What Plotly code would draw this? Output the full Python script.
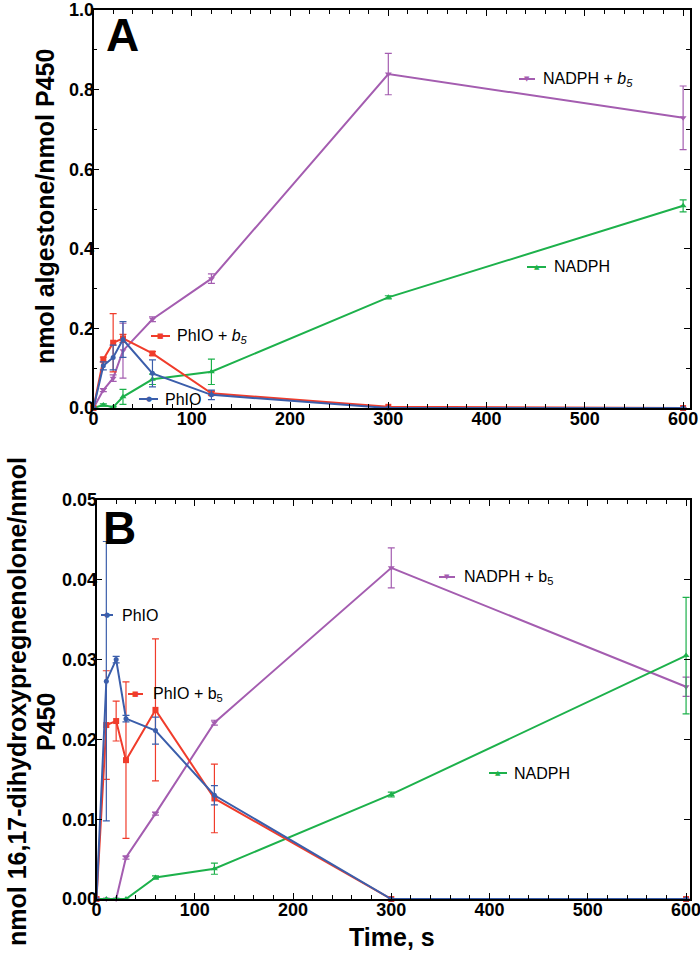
import plotly.graph_objects as go

# ---------------- data ----------------
time_s = [0, 10, 20, 30, 60, 120, 300, 600]

# Panel A: nmol algestone / nmol P450
a_phio = [0, 0.106, 0.127, 0.172, 0.087, 0.033, 0.0, 0.0]
a_phio_err = [0, 0.010, 0.031, 0.045, 0.034, 0.012, 0, 0]
a_phio_b5 = [0, 0.122, 0.164, 0.175, 0.137, 0.037, 0.003, 0.0]
a_phio_b5_err = [0, 0.006, 0.073, 0.010, 0.005, 0.005, 0, 0]
a_nadph_b5 = [0, 0.045, 0.075, 0.144, 0.223, 0.325, 0.839, 0.729]
a_nadph_b5_err = [0, 0.004, 0.008, 0.069, 0.006, 0.012, 0.052, 0.080]
a_nadph = [0, 0.0075, 0.002, 0.028, 0.072, 0.091, 0.278, 0.508]
a_nadph_err = [0, 0.003, 0.002, 0.019, 0.013, 0.032, 0.004, 0.015]

# Panel B: nmol 16,17-dihydroxypregnenolone / nmol P450
b_phio = [0, 0.0273, 0.0300, 0.0226, 0.0211, 0.0130, 0, 0]
b_phio_err = [0, 0.0175, 0.0004, 0.0004, 0.0017, 0.0012, 0, 0]
b_phio_b5 = [0, 0.0218, 0.0223, 0.0174, 0.0237, 0.0126, 0, 0]
b_phio_b5_err = [0, 0.0068, 0.0025, 0.0098, 0.0089, 0.0043, 0, 0]
b_nadph_b5 = [0, 0, 0, 0.0052, 0.0107, 0.0221, 0.0415, 0.0266]
b_nadph_b5_err = [0, 0, 0, 0.0002, 0.0002, 0.0003, 0.0025, 0.0012]
b_nadph = [0, 0, 0, 0, 0.0027, 0.0038, 0.0131, 0.0305]
b_nadph_err = [0, 0, 0, 0, 0.0002, 0.0007, 0.0003, 0.0073]

x_tick_step = 100
a_y_tick_step = 0.2
b_y_tick_step = 0.01

# ---------------- styles ----------------
W, H = 700, 962
FONT = "Liberation Sans"
C_BLUE = "#3b5eab"
C_RED = "#f03c2b"
C_PURPLE = "#a45db0"
C_GREEN = "#1db14b"

series_style = {
    "phio": dict(color=C_BLUE, symbol="circle", size=5),
    "phio_b5": dict(color=C_RED, symbol="square", size=6),
    "nadph_b5": dict(color=C_PURPLE, symbol="triangle-down", size=6),
    "nadph": dict(color=C_GREEN, symbol="triangle-up", size=6),
}


def px(x):
    return x / W


def py(y):
    return 1 - y / H


fig = go.Figure()


def add_series(xa, ya, yv, err, key):
    st = series_style[key]
    fig.add_trace(go.Scatter(
        x=time_s, y=yv, mode="lines+markers",
        line=dict(color=st["color"], width=2),
        marker=dict(color=st["color"], symbol=st["symbol"], size=st["size"]),
        error_y=dict(type="data", array=err, color=st["color"], thickness=1.2, width=3.5),
        xaxis=xa, yaxis=ya, showlegend=False, cliponaxis=False,
    ))


# draw order: purple, green, red, blue
add_series("x", "y", a_nadph_b5, a_nadph_b5_err, "nadph_b5")
add_series("x", "y", a_nadph, a_nadph_err, "nadph")
add_series("x", "y", a_phio_b5, a_phio_b5_err, "phio_b5")
add_series("x", "y", a_phio, a_phio_err, "phio")

add_series("x2", "y2", b_nadph_b5, b_nadph_b5_err, "nadph_b5")
add_series("x2", "y2", b_nadph, b_nadph_err, "nadph")
add_series("x2", "y2", b_phio_b5, b_phio_b5_err, "phio_b5")
add_series("x2", "y2", b_phio, b_phio_err, "phio")

# ---------------- axes ----------------
A_L, A_R = 93.5, 690
A_T, A_B = 10, 408
B_L, B_R = 96.5, 690
B_T, B_B = 500, 899

tick_font = dict(family=FONT, size=18, color="black")


def x_axis(dom, anchor, xmax):
    return dict(
        domain=dom, anchor=anchor, range=[0, xmax], automargin=False,
        tickmode="linear", tick0=0, dtick=x_tick_step,
        tickprefix="<b>", ticksuffix="</b>", ticklabelstandoff=-6,
        ticklabeloverflow="allow",
        ticks="inside", ticklen=6, tickwidth=1.2, tickcolor="black",
        showline=True, linecolor="black", linewidth=1.5, mirror="ticks",
        showgrid=False, zeroline=False, tickfont=tick_font,
        minor=dict(dtick=20, ticks="inside", ticklen=4, tickcolor="black", tickwidth=1, showgrid=False),
    )


def y_axis(dom, anchor, rng, step, fmt, minor_step=None):
    d = dict(
        domain=dom, anchor=anchor, range=rng, automargin=False,
        tickmode="linear", tick0=0, dtick=step, tickformat=fmt,
        tickprefix="<b>", ticksuffix="</b>", ticklabelstandoff=-6,
        ticklabeloverflow="allow",
        ticks="inside", ticklen=6, tickwidth=1.2, tickcolor="black",
        showline=True, linecolor="black", linewidth=1.5, mirror="ticks",
        showgrid=False, zeroline=False, tickfont=tick_font,
    )
    if minor_step:
        d["minor"] = dict(dtick=minor_step, ticks="inside", ticklen=4, tickcolor="black",
                          tickwidth=1, showgrid=False)
    return d


fig.update_layout(
    width=W, height=H, autosize=False,
    margin=dict(l=0, r=0, t=0, b=0, pad=0, autoexpand=False),
    paper_bgcolor="white", plot_bgcolor="white",
    xaxis=x_axis([px(A_L), px(A_R)], "y", 607),
    yaxis=y_axis([py(A_B), py(A_T)], "x", [0, 1.0], a_y_tick_step, ".1f", 0.1),
    xaxis2=x_axis([px(B_L), px(B_R)], "y2", 604),
    yaxis2=y_axis([py(B_B), py(B_T)], "x2", [0, 0.05], b_y_tick_step, ".2f"),
    showlegend=False,
)

# ---------------- in-plot legend keys (pixel positions -> paper) ----------------
legend_keys = [
    # (key, x1, x2, y, text_x, text)
    ("nadph_b5", 519, 535, 79, 541, "NADPH + <i>b</i><sub><i>5</i></sub>"),
    ("nadph", 527, 546, 267, 552, "NADPH"),
    ("phio_b5", 151, 170, 336, 175, "PhIO + <i>b</i><sub><i>5</i></sub>"),
    ("phio", 139, 158, 399, 163, "PhIO"),
    ("phio", 101, 113, 615, 120, "PhIO"),
    ("phio_b5", 128, 143, 694, 151, "PhIO + b<sub>5</sub>"),
    ("nadph_b5", 439, 455, 577, 462, "NADPH + b<sub>5</sub>"),
    ("nadph", 489, 507, 773, 512, "NADPH"),
]
glyph = {"circle": "●", "square": "■", "triangle-down": "▼", "triangle-up": "▲"}
for key, x1, x2, yk, tx, txt in legend_keys:
    st = series_style[key]
    fig.add_shape(type="line", xref="paper", yref="paper",
                  x0=px(x1), x1=px(x2), y0=py(yk), y1=py(yk),
                  line=dict(color=st["color"], width=2))
    fig.add_annotation(x=px((x1 + x2) / 2), y=py(yk), xref="paper", yref="paper",
                       text=glyph[st["symbol"]], showarrow=False,
                       xanchor="center", yanchor="middle",
                       font=dict(family="DejaVu Sans", size=7, color=st["color"]))
    fig.add_annotation(x=px(tx), y=py(yk), xref="paper", yref="paper", text=txt,
                       showarrow=False, xanchor="left", yanchor="middle",
                       font=dict(family=FONT, size=16, color="black"))


# ---------------- titles & panel letters ----------------
def label(xc, yc, text, size, angle=0):
    fig.add_annotation(x=px(xc), y=py(yc), xref="paper", yref="paper",
                       text=text, textangle=angle, showarrow=False,
                       xanchor="center", yanchor="middle",
                       font=dict(family=FONT, size=size, color="black"))


label(45, 207, "<b>nmol algestone/nmol P450</b>", 25, -90)
label(17, 702, "<b>nmol 16,17-dihydroxypregnenolone/nmol</b>", 25, -90)
label(46, 722, "<b>P450</b>", 25, -90)
label(392, 937, "<b>Time, s</b>", 25)
label(122.5, 35, "<b>A</b>", 46)
label(119, 528, "<b>B</b>", 46)

# remove the default page margin so the 700x962 figure fills the window exactly
fig.write_html("out.html", config={"displayModeBar": False},
               post_script="document.body.style.margin='0';")
